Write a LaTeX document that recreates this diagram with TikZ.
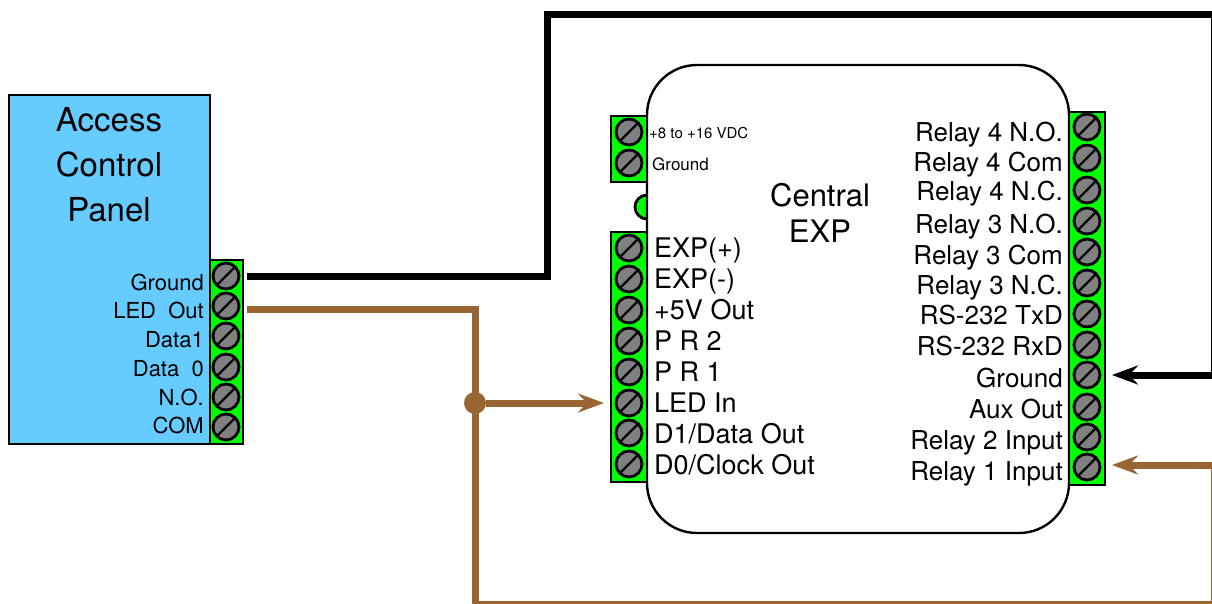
\documentclass[tikz,border=0pt]{standalone}
\usepackage{fontspec}
\setmainfont{TeX Gyre Heros}
\usetikzlibrary{arrows.meta}
\definecolor{panelblue}{HTML}{66CCFF}
\definecolor{termgreen}{HTML}{00FF00}
\definecolor{wirebrown}{HTML}{996633}
\definecolor{screwgray}{HTML}{808080}
\newcommand{\fsz}[1]{\fontsize{#1}{#1}\selectfont}
\tikzset{
  panelbox/.style={draw=black,line width=2.8pt,fill=panelblue,inner sep=0pt,outer sep=0pt,minimum width=201pt,minimum height=349pt},
  bodybox/.style={draw=black,line width=2.4pt,fill=white,rounded corners=50pt,inner sep=0pt,outer sep=0pt,minimum width=422pt,minimum height=468pt},
  strip/.style={draw=black,line width=2.8pt,fill=termgreen,inner sep=0pt,outer sep=0pt},
  screw/.style={circle,draw=black,line width=2.8pt,fill=screwgray,minimum size=26pt,inner sep=0pt,outer sep=0pt,
    path picture={\draw[black,line width=2.4pt] (-10pt,-10pt)--(10pt,10pt);}},
  led/.style={circle,draw=black,line width=2.8pt,fill=termgreen,minimum size=24pt,inner sep=0pt},
  wire/.style={line width=7pt,line cap=butt,line join=miter},
  tip/.style={-{Stealth[length=26pt,width=19pt,inset=9pt]}},
  lblR/.style={anchor=base east,inner sep=0pt,font=\fsz{26}},
  lblL/.style={anchor=base west,inner sep=0pt,font=\fsz{27}},
  lblP/.style={anchor=base east,inner sep=0pt,font=\fsz{22}},
  lblS/.style={anchor=base west,inner sep=0pt},
  title/.style={anchor=base,inner sep=0pt,font=\fsz{33}},
  dot/.style={circle,fill=wirebrown,minimum size=22pt,inner sep=0pt},
}
\begin{document}
\begin{tikzpicture}[x=1pt,y=-1pt]
\useasboundingbox (0,0) rectangle (1212,603);
\clip (0,0) rectangle (1212,603);
% Access control panel
\node[panelbox] (panel) at (109.5,269.5) {};
\node[strip,minimum width=33pt,minimum height=184pt] (pstrip) at (226.5,352) {};
\foreach \n/\y in {1/276,2/306,3/336,4/367,5/397,6/427}
  \node[screw] (ps\n) at (226,\y) {};
\node[title] (t1) at (109,131) {Access};
\node[title] (t2) at (109,176) {Control};
\node[title] (t3) at (109,221) {Panel};
\foreach \n/\y/\t in {1/290/Ground,2/318/LED\ \ Out,3/347/Data1,4/376/Data\ \ 0,5/405/N.O.,6/433/COM}
  \node[lblP] (pl\n) at (204,\y) {\t};
% Central EXP
\node[led] (ledlamp) at (647,207) {};
\node[bodybox] (body) at (858,299) {};
\node[strip,minimum width=36pt,minimum height=66pt] (s1) at (629,149) {};
\node[strip,minimum width=36pt,minimum height=250pt] (s2) at (629,357) {};
\node[strip,minimum width=36pt,minimum height=373pt] (s3) at (1087,298.5) {};
\foreach \n/\y in {1/132,2/163}
  \node[screw] (a\n) at (629,\y) {};
\foreach \n/\y in {1/248,2/279,3/310,4/341,5/372,6/403,7/433,8/464}
  \node[screw] (b\n) at (629,\y) {};
\foreach \n/\y in {1/127,2/158,3/190,4/221,5/252,6/283,7/314,8/345,9/375,10/407,11/437,12/467}
  \node[screw] (c\n) at (1087,\y) {};
\node[title,font=\fsz{31}] (ce1) at (820,206) {Central};
\node[title,font=\fsz{31}] (ce2) at (820,242) {EXP};
\node[lblS,font=\fsz{15}] (al1) at (649,138) {+8 to +16 VDC};
\node[lblS,font=\fsz{17}] (al2) at (652,170) {Ground};
\foreach \n/\y/\t in {1/257/EXP(+),2/288/EXP(-),3/319/+5V Out,4/350/P R 2,5/381/P R 1,6/412/LED In,7/443/{D1/Data Out},8/474/{D0/Clock Out}}
  \node[lblL] (bl\n) at (654,\y) {\t};
\foreach \n/\y/\t in {1/141/Relay 4 N.O.,2/171/Relay 4 Com,3/200/Relay 4 N.C.,4/233/Relay 3 N.O.,5/264/Relay 3 Com,6/294/Relay 3 N.C.,7/324/RS-232 TxD,8/355/RS-232 RxD,9/387/Ground,10/418/Aux Out,11/449/Relay 2 Input,12/480/Relay 1 Input}
  \node[lblR] (cl\n) at (1063,\y) {\t};
% wire ends
\coordinate (gndOut) at (247,276);
\coordinate (ledOut) at (247,309);
\coordinate (gndIn) at (1112,375);
\coordinate (relayIn) at (1112,465);
\coordinate (ledIn) at (604,403);
% wires
\draw[wire,black,tip] (gndOut) -| (547,14) -- (1214,14) -- (1214,375) -- (gndIn);
\draw[wire,wirebrown] (ledOut) -| (475,604.5) -- (1214,604.5) -- (1214,465);
\draw[wire,wirebrown,tip] (1214,465) -- (relayIn);
\node[dot] (junction) at (475,403) {};
\draw[wire,wirebrown,tip] (junction) -- (ledIn);
\end{tikzpicture}
\end{document}
